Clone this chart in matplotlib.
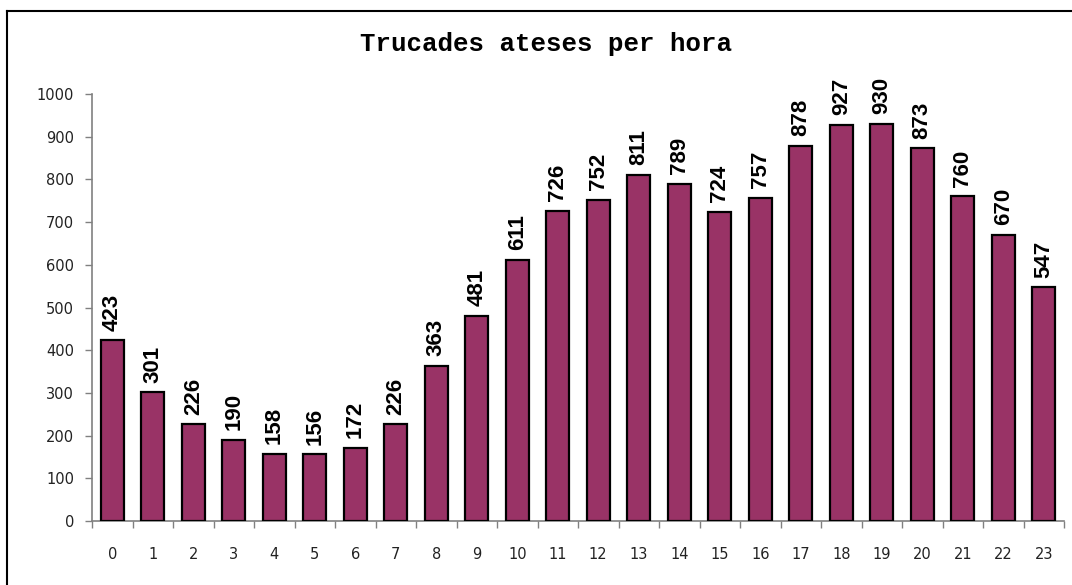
import matplotlib.pyplot as plt
from matplotlib.lines import Line2D

hours = [str(h) for h in range(24)]
counts = [423, 301, 226, 190, 158, 156, 172, 226, 363, 481, 611, 726,
          752, 811, 789, 724, 757, 878, 927, 930, 873, 760, 670, 547]
title = "Trucades ateses per hora"

W, H = 1072, 585
fig = plt.figure(figsize=(W / 100, H / 100), dpi=100)
fig.patch.set_facecolor("white")

# frame around the chart (left and top edges visible)
fig.add_artist(Line2D([7 / W, 7 / W], [0, 1 - 11 / H], transform=fig.transFigure,
                      color="black", lw=1.5))
fig.add_artist(Line2D([7 / W, 1], [1 - 11 / H, 1 - 11 / H], transform=fig.transFigure,
                      color="black", lw=1.5))

ax = fig.add_axes([92 / W, 1 - 521 / H, (1064 - 92) / W, (521 - 94) / H])
x = range(len(hours))
ax.bar(x, counts, width=0.58, color="#993366", edgecolor="black", linewidth=1.6, zorder=3)

for xi, v in zip(x, counts):
    ax.annotate(str(v), (xi, v), xytext=(0, 7), textcoords="offset points",
                rotation=90, ha="center", va="bottom", fontsize=16,
                fontweight="bold", family="Liberation Sans", color="black")

ax.set_xlim(-0.5, len(hours) - 0.5)
ax.set_ylim(0, 1000)
ax.set_yticks(range(0, 1001, 100))
ax.set_xticks(list(x))
ax.set_xticklabels(hours)
ax.set_xticks([i - 0.5 for i in range(len(hours) + 1)], minor=True)

for s in ["top", "right"]:
    ax.spines[s].set_visible(False)
for s in ["left", "bottom"]:
    ax.spines[s].set_color("#808080")
    ax.spines[s].set_linewidth(1.2)

ax.tick_params(axis="y", direction="out", length=5, color="#808080", width=1,
               labelsize=10.5, labelcolor="#222222", pad=8)
ax.tick_params(axis="x", which="major", length=0, labelsize=10.5,
               labelcolor="#222222", pad=19)
ax.tick_params(axis="x", which="minor", direction="out", length=5,
               color="#808080", width=1)

fig.text(546 / W, 1 - 44 / H, title, ha="center", va="center",
         family="Liberation Mono", fontweight="bold", fontsize=18.5)

fig.savefig("out.png", dpi=100, facecolor="white")
